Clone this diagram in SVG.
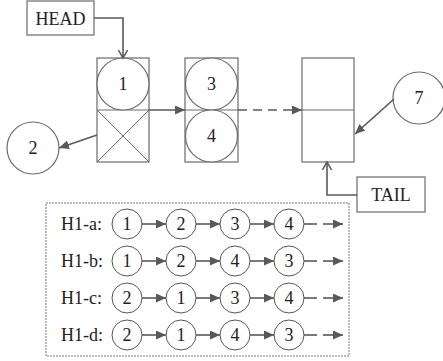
<svg xmlns="http://www.w3.org/2000/svg" width="443" height="361" viewBox="0 0 443 361" font-family="Times New Roman, Liberation Serif, serif" font-size="18">
<defs>
<marker id="tri" markerUnits="userSpaceOnUse" markerWidth="10" markerHeight="9" refX="10" refY="4.5" orient="auto">
<path d="M0,0 L10,4.5 L0,9 z" fill="#595959"/>
</marker>
<marker id="chev" markerUnits="userSpaceOnUse" markerWidth="12" markerHeight="10" refX="9" refY="5" orient="auto">
<path d="M1,0.5 L9,5 L1,9.5" fill="none" stroke="#595959" stroke-width="1.5"/>
</marker>
</defs>
<rect width="443" height="361" fill="#fff"/>

<g id="head" fill="#fff" stroke="#6b6b6b" stroke-width="1.2">
<rect x="27" y="1" width="67" height="34"/>
<text x="60.5" y="24.5" fill="#222" stroke="none" text-anchor="middle" font-family="Times New Roman, Liberation Serif, serif">HEAD</text>
</g>

<g id="node1" fill="#fff" stroke="#6b6b6b" stroke-width="1.2">
<rect x="97" y="58" width="52" height="104"/>
<line x1="97" y1="110" x2="149" y2="110" stroke-width="1"/>
<circle cx="123" cy="84" r="26"/>
<text x="123" y="90" fill="#222" stroke="none" text-anchor="middle" font-family="Times New Roman, Liberation Serif, serif">1</text>
<line x1="97" y1="110" x2="149" y2="162" stroke-width="1"/>
<line x1="149" y1="110" x2="97" y2="162" stroke-width="1"/>
</g>

<g id="node2" fill="#fff" stroke="#6b6b6b" stroke-width="1.2">
<circle cx="33" cy="148" r="26"/>
<text x="33" y="154" fill="#222" stroke="none" text-anchor="middle" font-family="Times New Roman, Liberation Serif, serif">2</text>
</g>

<g id="node34" fill="#fff" stroke="#6b6b6b" stroke-width="1.2">
<rect x="185" y="58" width="53" height="104"/>
<line x1="185" y1="110" x2="238" y2="110" stroke-width="1"/>
<circle cx="211.5" cy="84" r="26"/>
<text x="211.5" y="90" fill="#222" stroke="none" text-anchor="middle" font-family="Times New Roman, Liberation Serif, serif">3</text>
<circle cx="211.5" cy="136" r="26"/>
<text x="211.5" y="142" fill="#222" stroke="none" text-anchor="middle" font-family="Times New Roman, Liberation Serif, serif">4</text>
</g>

<g id="tailnode" fill="#fff" stroke="#6b6b6b" stroke-width="1.2">
<rect x="302" y="58" width="52" height="104"/>
<line x1="302" y1="110" x2="354" y2="110" stroke-width="1"/>
</g>

<g id="node7" fill="#fff" stroke="#6b6b6b" stroke-width="1.2">
<circle cx="419" cy="98" r="26"/>
<text x="419" y="104" fill="#222" stroke="none" text-anchor="middle" font-family="Times New Roman, Liberation Serif, serif">7</text>
</g>

<g id="tail" fill="#fff" stroke="#6b6b6b" stroke-width="1.2">
<rect x="357" y="177" width="68" height="35"/>
<text x="391" y="201" fill="#222" stroke="none" text-anchor="middle" font-family="Times New Roman, Liberation Serif, serif">TAIL</text>
</g>

<g id="legend">
<rect x="46" y="203" width="303" height="153" fill="none" stroke="#777" stroke-width="1" stroke-dasharray="2,1"/>
<g fill="#222" font-family="Times New Roman, Liberation Serif, serif">
<text x="61" y="230">H1-a:</text>
<text x="61" y="267">H1-b:</text>
<text x="61" y="304">H1-c:</text>
<text x="61" y="341">H1-d:</text>
</g>
<g fill="#fff" stroke="#555" stroke-width="1">
<circle cx="127" cy="224" r="15"/><circle cx="181" cy="224" r="15"/><circle cx="235" cy="224" r="15"/><circle cx="289" cy="224" r="15"/>
<circle cx="127" cy="261" r="15"/><circle cx="181" cy="261" r="15"/><circle cx="235" cy="261" r="15"/><circle cx="289" cy="261" r="15"/>
<circle cx="127" cy="298" r="15"/><circle cx="181" cy="298" r="15"/><circle cx="235" cy="298" r="15"/><circle cx="289" cy="298" r="15"/>
<circle cx="127" cy="335" r="15"/><circle cx="181" cy="335" r="15"/><circle cx="235" cy="335" r="15"/><circle cx="289" cy="335" r="15"/>
</g>
<g fill="#222" text-anchor="middle" font-family="Times New Roman, Liberation Serif, serif">
<text x="127" y="230">1</text><text x="181" y="230">2</text><text x="235" y="230">3</text><text x="289" y="230">4</text>
<text x="127" y="267">1</text><text x="181" y="267">2</text><text x="235" y="267">4</text><text x="289" y="267">3</text>
<text x="127" y="304">2</text><text x="181" y="304">1</text><text x="235" y="304">3</text><text x="289" y="304">4</text>
<text x="127" y="341">2</text><text x="181" y="341">1</text><text x="235" y="341">4</text><text x="289" y="341">3</text>
</g>
</g>

<g id="connectors" fill="none" stroke="#595959" stroke-width="1.6">
<path d="M94,18 H123 V58" marker-end="url(#chev)"/>
<path d="M357,195 H327 V162" marker-end="url(#chev)"/>
<g marker-end="url(#tri)">
<line x1="97" y1="135" x2="59" y2="148"/>
<line x1="149" y1="110" x2="185" y2="110"/>
<line x1="238" y1="110" x2="302" y2="110" stroke-dasharray="9,6"/>
<line x1="394" y1="99" x2="355" y2="134"/>
<line x1="142" y1="224" x2="166" y2="224"/><line x1="196" y1="224" x2="220" y2="224"/><line x1="250" y1="224" x2="274" y2="224"/><line x1="323" y1="224" x2="343" y2="224"/>
<line x1="142" y1="261" x2="166" y2="261"/><line x1="196" y1="261" x2="220" y2="261"/><line x1="250" y1="261" x2="274" y2="261"/><line x1="323" y1="261" x2="343" y2="261"/>
<line x1="142" y1="298" x2="166" y2="298"/><line x1="196" y1="298" x2="220" y2="298"/><line x1="250" y1="298" x2="274" y2="298"/><line x1="323" y1="298" x2="343" y2="298"/>
<line x1="142" y1="335" x2="166" y2="335"/><line x1="196" y1="335" x2="220" y2="335"/><line x1="250" y1="335" x2="274" y2="335"/><line x1="323" y1="335" x2="343" y2="335"/>
</g>
<line x1="304" y1="224" x2="317" y2="224"/>
<line x1="304" y1="261" x2="317" y2="261"/>
<line x1="304" y1="298" x2="317" y2="298"/>
<line x1="304" y1="335" x2="317" y2="335"/>
</g>
</svg>
